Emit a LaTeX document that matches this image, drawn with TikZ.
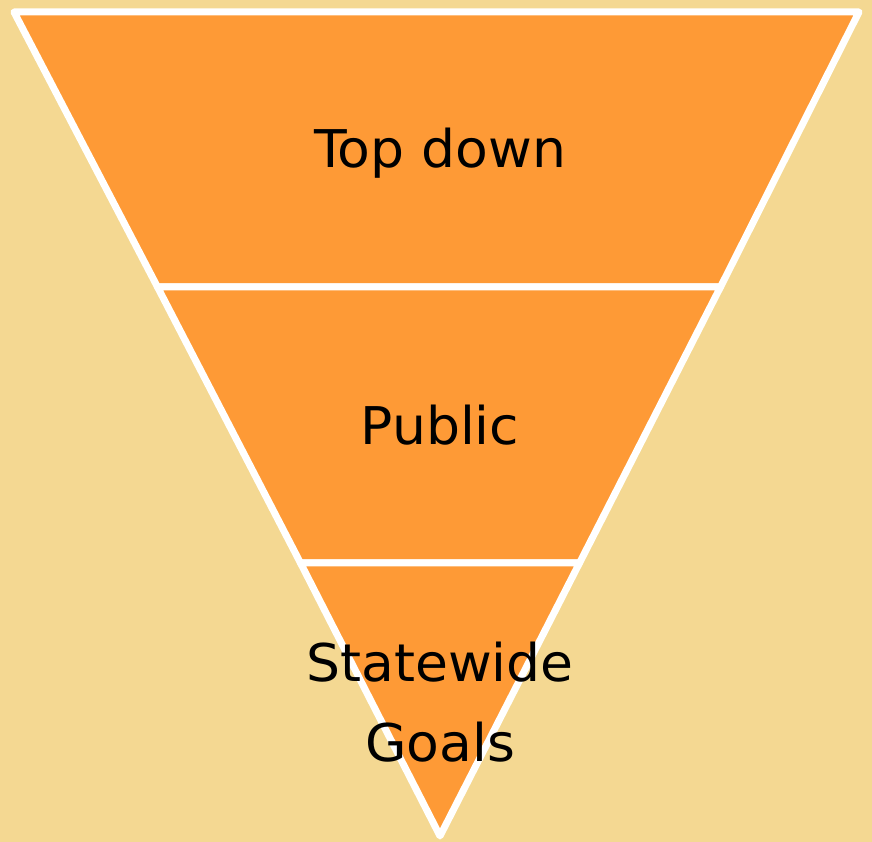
\documentclass[tikz,border=0pt]{standalone}
\usepackage{fontspec}
\setmainfont{DejaVu Sans}[FakeStretch=1.03]
\definecolor{bg}{HTML}{F4D892}
\definecolor{seg}{HTML}{FE9A36}
\begin{document}
\begin{tikzpicture}[x=1pt,y=1pt,
  segment/.style={fill=seg,draw=white,line width=7pt,line join=round},
  label/.style={font=\fontsize{52}{80}\selectfont,text=black,align=center,inner sep=0pt}]
\fill[bg] (0,0) rectangle (872,842);
\useasboundingbox (0,0) rectangle (872,842);
% y_tikz = 842 - y_img
\coordinate (tl) at (14,830);
\coordinate (tr) at (859,830);
\coordinate (ml1) at (157.5,555);
\coordinate (mr1) at (720.5,555);
\coordinate (ml2) at (300.5,279);
\coordinate (mr2) at (579.5,279);
\coordinate (ap) at (440,6);
\draw[segment] (tl) -- (tr) -- (mr1) -- (ml1) -- cycle;
\draw[segment] (ml1) -- (mr1) -- (mr2) -- (ml2) -- cycle;
\draw[segment] (ml2) -- (mr2) -- (ap) -- cycle;
\node[label,anchor=base] (t1) at (440,674) {Top down};
\node[label,anchor=base] (t2) at (440,397) {Public};
\node[label,anchor=base] (t3) at (440,160) {Statewide};
\node[label,anchor=base] (t4) at (440,80) {Goals};
\end{tikzpicture}
\end{document}
